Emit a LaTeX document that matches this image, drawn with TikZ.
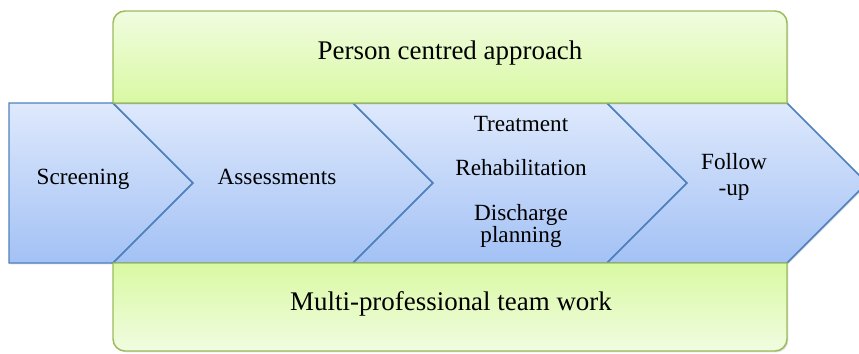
\documentclass[tikz,border=0pt]{standalone}
\usepackage{fontspec}
\setmainfont{Liberation Serif}
\usetikzlibrary{shadows}
\definecolor{chevtop}{RGB}{222,233,252}
\definecolor{chevbot}{RGB}{163,193,245}
\definecolor{chevline}{RGB}{79,129,189}
\definecolor{bandlight}{RGB}{240,252,224}
\definecolor{banddark}{RGB}{217,249,163}
\definecolor{bandline}{RGB}{155,187,89}
\tikzset{
  chev/.style={draw=chevline,line width=1.1pt,top color=chevtop,bottom color=chevbot,
    drop shadow={shadow xshift=1pt,shadow yshift=-1pt,opacity=0.25}},
  band/.style={draw=bandline,line width=1.1pt,
    drop shadow={shadow xshift=1pt,shadow yshift=-1pt,opacity=0.25}},
  steptext/.style={anchor=base,inner sep=0pt,align=center,font=\fontsize{17.4}{19.5}\selectfont},
  bandtext/.style={anchor=base,inner sep=0pt,font=\fontsize{20.2}{24}\selectfont}
}
\begin{document}
\begin{tikzpicture}[x=0.75pt,y=0.75pt]
\useasboundingbox (0,0) rectangle (859,-353);
\clip (0,0) rectangle (859,-353);
\path[chev] (9,-103)--(113,-103)--(193,-183)--(113,-263)--(9,-263)--cycle;
\foreach \a/\b in {113/353,353/607,607/787}
  \path[chev] (\a,-103)--(\b,-103)--(\b+80,-183)--(\b,-263)--(\a,-263)--(\a+80,-183)--cycle;
\path[band,top color=bandlight,bottom color=banddark] (113,-103)--(113,-23)
  arc[start angle=180,end angle=90,radius=9pt]--(775,-11)
  arc[start angle=90,end angle=0,radius=9pt]--(787,-103)--cycle;
\path[band,top color=banddark,bottom color=bandlight] (113,-263)--(787,-263)--(787,-339)
  arc[start angle=0,end angle=-90,radius=9pt]--(125,-351)
  arc[start angle=270,end angle=180,radius=9pt]--cycle;
\node[bandtext] (person) at (450,-60) {Person centred approach};
\node[bandtext] (team) at (451,-310) {Multi-professional team work};
\node[steptext] (screen) at (83,-184) {Screening};
\node[steptext] (assess) at (277,-184) {Assessments};
\node[steptext] (treat) at (521,-131) {Treatment};
\node[steptext] (rehab) at (521,-175) {Rehabilitation};
\node[steptext,font=\fontsize{17.4}{16.5}\selectfont] (discharge) at (521,-242) {Discharge\\planning};
\node[steptext] (follow) at (734,-195) {Follow\\-up};
\end{tikzpicture}
\end{document}
